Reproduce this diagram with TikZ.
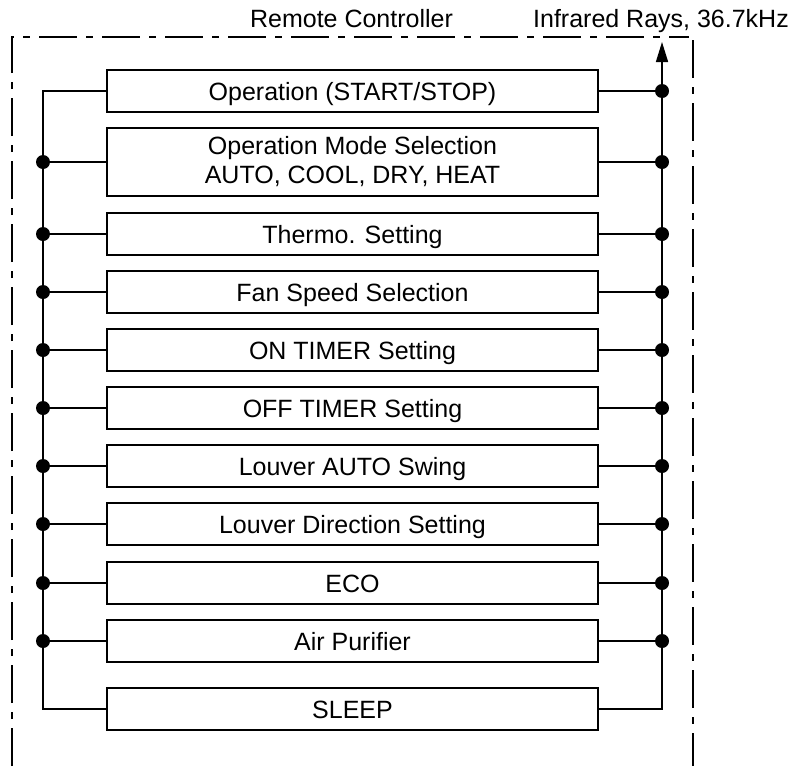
\documentclass[tikz,border=0pt]{standalone}
\usepackage{fontspec}
\setmainfont{Liberation Sans}
\usetikzlibrary{arrows.meta}
\begin{document}
\begin{tikzpicture}[x=1pt,y=-1pt,
  fnbox/.style={draw,line width=2.6pt,minimum width=491pt,minimum height=42pt,inner sep=0pt,align=center,font=\fontsize{25}{29}\selectfont},
  onebox/.style={fnbox,text height=18pt,text depth=0pt},
  conn/.style={line width=1.5pt},
  dotmark/.style={circle,fill=black,inner sep=0pt,minimum size=14pt},
  frame/.style={line width=2.6pt,dash pattern=on 38pt off 9pt on 7pt off 9pt},
  lbl/.style={anchor=base,inner sep=0pt,font=\fontsize{25}{30}\selectfont}]
\useasboundingbox (0,0) rectangle (803,766);
% frame
\draw[frame] (12,766) -- (12,37) -- (689,37);
\draw[frame] (693,40) -- (693,766);
\node[lbl] (rc) at (351.5,27) {Remote Controller};
\node[lbl] (ir) at (661,27) {Infrared Rays, 36.7kHz};
% boxes
\node[onebox] (b1) at (352.5,91) {Operation (START/STOP)};
\node[fnbox,minimum height=68pt] (b2) at (352.5,162) {Operation Mode Selection\\AUTO, COOL, DRY, HEAT};
\node[onebox] (b3) at (352.5,234) {Thermo. Setting};
\node[onebox] (b4) at (352.5,292) {Fan Speed Selection};
\node[onebox] (b5) at (352.5,350) {ON TIMER Setting};
\node[onebox] (b6) at (352.5,408) {OFF TIMER Setting};
\node[onebox] (b7) at (352.5,466) {Louver AUTO Swing};
\node[onebox] (b8) at (352.5,524) {Louver Direction Setting};
\node[onebox] (b9) at (352.5,583) {ECO};
\node[onebox] (b10) at (352.5,641) {Air Purifier};
\node[onebox] (b11) at (352.5,709) {SLEEP};
% bus coordinates
\foreach \i/\y in {1/91,2/162,3/234,4/292,5/350,6/408,7/466,8/524,9/583,10/641,11/709}{
  \coordinate (L\i) at (43,\y);
  \coordinate (R\i) at (662,\y);
}
\coordinate (Rtop) at (662,42);
% left bus
\draw[conn] (b1.west) -- (L1) -- (L11) -- (b11.west);
\foreach \i in {2,...,10}{
  \draw[conn] (b\i.west) -- (L\i);
  \node[dotmark] (ld\i) at (L\i) {};
}
% right bus
\draw[conn,-{Triangle[length=20pt,width=12pt]}] (b11.east) -- (R11) -- (Rtop);
\foreach \i in {1,...,10}{
  \draw[conn] (b\i.east) -- (R\i);
  \node[dotmark] (rd\i) at (R\i) {};
}
\end{tikzpicture}
\end{document}
